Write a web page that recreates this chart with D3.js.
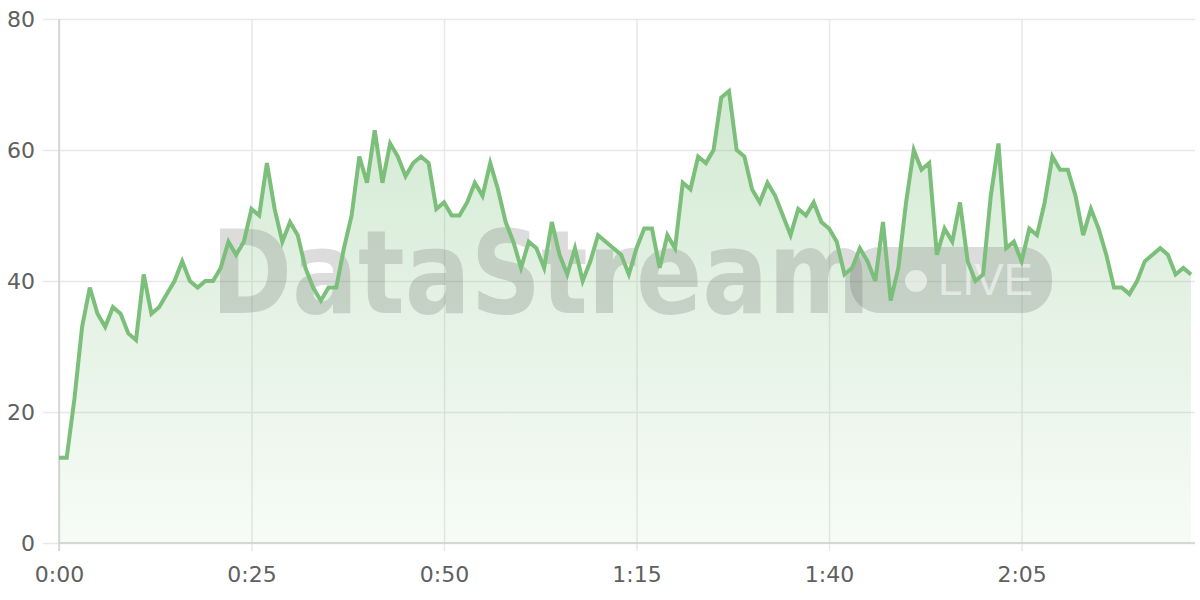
<!DOCTYPE html>
<html>
<head>
<meta charset="utf-8">
<script src="https://cdn.jsdelivr.net/npm/d3@7"></script>
<style>
  html, body { margin: 0; padding: 0; background: #fff; }
  svg { display: block; }
  .tick text { font-family: "DejaVu Sans", sans-serif; font-size: 22px; fill: #606060; }
</style>
</head>
<body>
<div id="chart"></div>
<script>
// one sample per second, starting at 0:00
const values = [13, 13, 22, 33, 39, 35, 33, 36, 35, 32, 31, 41, 35, 36, 38, 40, 43, 40, 39, 40,
  40, 42, 46, 44, 46, 51, 50, 58, 51, 46, 49, 47, 42, 39, 37, 39, 39, 45, 50, 59,
  55, 63, 55, 61, 59, 56, 58, 59, 58, 51, 52, 50, 50, 52, 55, 53, 58, 54, 49, 46,
  42, 46, 45, 42, 49, 44, 41, 45, 40, 43, 47, 46, 45, 44, 41, 45, 48, 48, 42, 47,
  45, 55, 54, 59, 58, 60, 68, 69, 60, 59, 54, 52, 55, 53, 50, 47, 51, 50, 52, 49,
  48, 46, 41, 42, 45, 43, 40, 49, 37, 42, 52, 60, 57, 58, 44, 48, 46, 52, 43, 40,
  41, 53, 61, 45, 46, 43, 48, 47, 52, 59, 57, 57, 53, 47, 51, 48, 44, 39, 39, 38,
  40, 43, 44, 45, 44, 41, 42, 41];
const xTicks = [0, 25, 50, 75, 100, 125];
const yTicks = [0, 20, 40, 60, 80];

const W = 1200, H = 600;
const plotL = 59, plotR = 1195, plotT = 19, plotB = 543;

const data = values.map(function(v, i) { return { t: i, v: v }; });

const x = d3.scaleLinear().domain([0, values.length - 1]).range([plotL, 1191]);
const y = d3.scaleLinear().domain([0, 80]).range([plotB, plotT]);

function fmt(s) {
  let m = Math.floor(s / 60), r = s % 60;
  return m + ":" + (r < 10 ? "0" : "") + r;
}

const svg = d3.select("#chart").append("svg")
  .attr("width", W).attr("height", H);

const defs = svg.append("defs");
const grad = defs.append("linearGradient")
  .attr("id", "fill").attr("gradientUnits", "userSpaceOnUse")
  .attr("x1", 0).attr("y1", plotT).attr("x2", 0).attr("y2", plotB);
grad.append("stop").attr("offset", 0).attr("stop-color", "#7bbf7b").attr("stop-opacity", 0.38);
grad.append("stop").attr("offset", 1).attr("stop-color", "#7bbf7b").attr("stop-opacity", 0.06);

// grid + y labels
const yAxis = svg.append("g")
  .attr("transform", "translate(" + plotL + ",0)")
  .call(d3.axisLeft(y).tickValues(yTicks).tickSize(16).tickPadding(8)
    .tickFormat(d3.format("d")));
yAxis.select(".domain").remove();
yAxis.selectAll(".tick line").attr("stroke", "#e8e8e8").attr("stroke-width", 1.5);
yAxis.selectAll(".tick").append("line")
  .attr("x1", 0).attr("x2", plotR - plotL)
  .attr("stroke", "#e8e8e8").attr("stroke-width", 1.5);

const xAxis = svg.append("g")
  .attr("transform", "translate(0," + plotB + ")")
  .call(d3.axisBottom(x).tickValues(xTicks).tickSize(8).tickPadding(15)
    .tickFormat(fmt));
xAxis.select(".domain").remove();
xAxis.selectAll(".tick line").attr("stroke", "#e8e8e8").attr("stroke-width", 1.5);
xAxis.selectAll(".tick").append("line")
  .attr("y1", 0).attr("y2", plotT - plotB)
  .attr("stroke", "#e8e8e8").attr("stroke-width", 1.5);

// axis lines
svg.append("line").attr("x1", plotL).attr("x2", plotL).attr("y1", plotT).attr("y2", plotB + 8)
  .attr("stroke", "#d0d0d0").attr("stroke-width", 1.5);
svg.append("line").attr("x1", plotL).attr("x2", plotR).attr("y1", plotB).attr("y2", plotB)
  .attr("stroke", "#d0d0d0").attr("stroke-width", 1.5);

// area
const area = d3.area()
  .x(function(d) { return x(d.t); })
  .y0(y(0))
  .y1(function(d) { return y(d.v); });
svg.append("path").datum(data)
  .attr("d", area)
  .attr("fill", "url(#fill)");

// watermark
const wm = svg.append("g").attr("pointer-events", "none");
wm.append("rect")
  .attr("x", 850).attr("y", 247).attr("width", 202).attr("height", 66).attr("rx", 30)
  .attr("fill", "rgb(80,80,80)").attr("fill-opacity", 0.2);
wm.append("text")
  .attr("x", 211).attr("y", 313)
  .attr("font-family", "'DejaVu Sans', sans-serif")
  .attr("font-weight", "bold").attr("font-size", 115)
  .attr("textLength", 659).attr("lengthAdjust", "spacingAndGlyphs")
  .attr("fill", "rgb(80,80,80)").attr("fill-opacity", 0.2)
  .text("DataStream");
wm.append("circle").attr("cx", 916).attr("cy", 281).attr("r", 11)
  .attr("fill", "#fff").attr("fill-opacity", 0.55);
wm.append("text")
  .attr("x", 938).attr("y", 295)
  .attr("font-family", "'Liberation Sans', Arial, sans-serif")
  .attr("font-size", 45)
  .attr("textLength", 95).attr("lengthAdjust", "spacingAndGlyphs")
  .attr("fill", "#fff").attr("fill-opacity", 0.55)
  .text("LIVE");

// line
const line = d3.line()
  .x(function(d) { return x(d.t); })
  .y(function(d) { return y(d.v); });
svg.append("path").datum(data)
  .attr("d", line)
  .attr("fill", "none")
  .attr("stroke", "#7bbf7b")
  .attr("stroke-width", 4)
  .attr("stroke-linejoin", "miter");
</script>
</body>
</html>
